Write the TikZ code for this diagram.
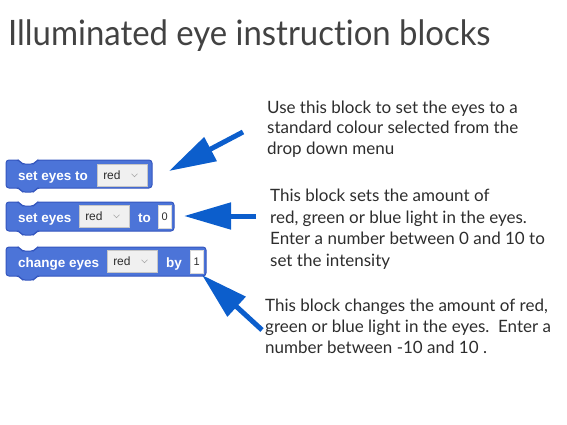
\documentclass[tikz,border=0pt]{standalone}
\usepackage{fontspec}
\setmainfont{Lato}[Ligatures=NoCommon]
\newfontfamily\blockfont{Liberation Sans}
\usetikzlibrary{arrows.meta}

\definecolor{blockblue}{RGB}{76,116,216}
\definecolor{blockedge}{RGB}{52,86,190}
\definecolor{arrowblue}{RGB}{12,94,204}
\definecolor{inkgrey}{RGB}{45,45,45}

% body of one command block: left, top, right, bottom
\newcommand{\eyeblock}[4]{%
  \filldraw[blockbody] (#1,#4) -- (#1,#2) -- (#1+13,#2) -- (#1+16,#2+4)
    -- (#1+28,#2+4) -- (#1+31,#2) -- (#3,#2) -- (#3,#4) -- (#1+31,#4)
    -- (#1+28,#4+4) -- (#1+16,#4+4) -- (#1+13,#4) -- cycle;}

\begin{document}
\begin{tikzpicture}[x=1pt, y=-1pt,
  blockbody/.style={fill=blockblue, draw=blockedge, line width=1pt, rounded corners=3pt},
  blocklabel/.style={anchor=mid west, inner sep=0pt, text=white,
    font=\blockfont\fontsize{13.5}{14}\selectfont\bfseries},
  menubox/.style={anchor=north west, fill=gray!12, draw=gray!45, line width=0.5pt,
    minimum height=22pt, text width=38pt, inner xsep=6pt, inner ysep=0pt, align=left,
    text=inkgrey, font=\blockfont\fontsize{12}{13}\selectfont},
  numbox/.style={anchor=north west, fill=white, draw=gray!30, line width=0.5pt,
    minimum width=13pt, minimum height=23pt, inner sep=0pt, text=inkgrey,
    font=\blockfont\fontsize{11}{12}\selectfont},
  chevron/.style={draw=gray!70, line width=0.6pt},
  note/.style={anchor=base west, inner sep=0pt, align=left, text=inkgrey},
  bigarrow/.style={draw=arrowblue, line width=5pt,
    -{Triangle[length=47pt, width=26pt]}}]
  \useasboundingbox (0,0) rectangle (567,425);

  \node[anchor=base west, inner sep=0pt, text=inkgrey!90, xscale=0.94,
    font=\fontsize{35}{40}\selectfont]
    (title) at (8,46) {Illuminated eye instruction blocks};

  % set eyes to [menu]
  \eyeblock{6}{160}{152}{188}
  \node[blocklabel] (lblA) at (18,177.5) {set eyes to};
  \node[menubox] (menuA) at (97,164) {red};
  \draw[chevron] ([xshift=-13pt]menuA.east) ++(-3,-1.5) -- ++(3,3) -- ++(3,-3);

  % set eyes [menu] to [n]
  \eyeblock{6}{202}{174}{231}
  \node[blocklabel] (lblB) at (18,220) {set eyes};
  \node[menubox] (menuB) at (79,205) {red};
  \draw[chevron] ([xshift=-13pt]menuB.east) ++(-3,-1.5) -- ++(3,3) -- ++(3,-3);
  \node[blocklabel] (toB) at (138,220) {to};
  \node[numbox] (numB) at (158,205) {0};

  % change eyes [menu] by [n]
  \eyeblock{6}{247}{206}{276}
  \node[blocklabel] (lblC) at (18,265) {change eyes};
  \node[menubox] (menuC) at (107,250) {red};
  \draw[chevron] ([xshift=-13pt]menuC.east) ++(-3,-1.5) -- ++(3,3) -- ++(3,-3);
  \node[blocklabel] (byC) at (166,265) {by};
  \node[numbox] (numC) at (190,250) {1};

  % base anchor sits on the last line
  \node[note, font=\fontsize{17}{20.5}\selectfont] (noteA) at (267,154)
    {Use this block to set the eyes to a\\
    standard colour selected from the\\drop down menu};
  \node[note, font=\fontsize{17}{21.5}\selectfont] (noteB) at (270,266)
    {This block sets the amount of\\
    red, green or blue light in the eyes.\\Enter a number between 0 and 10 to\\
    set the intensity};
  \node[note, font=\fontsize{17}{21}\selectfont] (noteC) at (265,353)
    {This block changes the amount of red,\\
    green or blue light in the eyes.\ \ Enter a\\number between -10 and 10 .};

  \coordinate (tailA) at (243,132);
  \coordinate (tipA)  at (169,171);
  \coordinate (tailB) at (256,216);
  \coordinate (tipB)  at (184,216);
  \coordinate (tailC) at (262,330);
  \coordinate (tipC)  at (202,275);
  \draw[bigarrow] (tailA) -- (tipA);
  \draw[bigarrow] (tailB) -- (tipB);
  \draw[bigarrow] (tailC) -- (tipC);
\end{tikzpicture}
\end{document}
